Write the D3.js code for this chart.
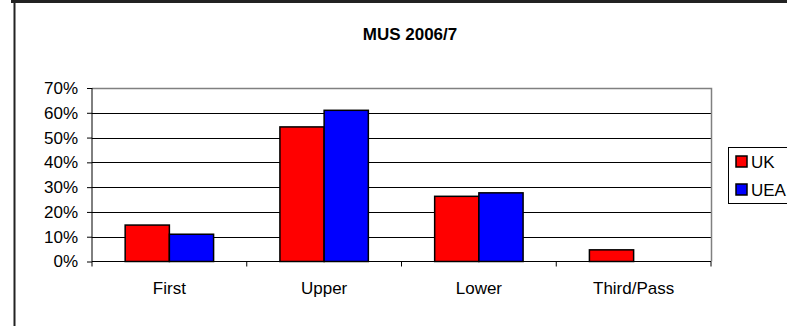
<!DOCTYPE html>
<html><head><meta charset="utf-8">
<script src="https://cdn.jsdelivr.net/npm/d3@7"></script>
<style>
html,body{margin:0;padding:0;background:#fff;overflow:hidden}
text{font-family:"Liberation Sans",Arial,sans-serif}
</style></head>
<body><svg id="c" width="787" height="326"></svg>
<script>
const title = "MUS 2006/7";
const categories = ["First","Upper","Lower","Third/Pass"];
const seriesNames = ["UK","UEA"];
const ukValues = [0.147, 0.543, 0.263, 0.047];
const ueaValues = [0.110, 0.610, 0.277, 0];
const seriesColors = ["#FF0000","#0000FF"];
const yTicks = [0,0.1,0.2,0.3,0.4,0.5,0.6,0.7];

const svg = d3.select("#c");
const W = 787, H = 326;
svg.append("rect").attr("width",W).attr("height",H).attr("fill","#fff");

// outer frame
svg.append("line").attr("x1",11).attr("x2",W).attr("y1",1.5).attr("y2",1.5).attr("stroke","#222").attr("stroke-width",3);
svg.append("line").attr("x1",14.5).attr("x2",14.5).attr("y1",0).attr("y2",H).attr("stroke","#222").attr("stroke-width",2);

const L = 92, R = 711, T = 88, B = 261.5;
const x = d3.scaleBand().domain(categories).range([L,R]).paddingInner(0).paddingOuter(0);
const y = d3.scaleLinear().domain([0,0.7]).range([B,T]);

// gridlines
svg.append("g").selectAll("line").data(yTicks.filter(d=>d>0 && d<0.7)).join("line")
  .attr("x1",L).attr("x2",R).attr("y1",d=>Math.round(y(d))+0.5).attr("y2",d=>Math.round(y(d))+0.5)
  .attr("stroke","#000").attr("stroke-width",1);
// plot border top/right (gray)
svg.append("path").attr("d",`M${L},${Math.round(T)+0.5}H${R+0.5}V${B}`).attr("fill","none").attr("stroke","#808080").attr("stroke-width",1.5);

// bars
const bw = x.bandwidth()/3.5;
const series = [ukValues, ueaValues];
series.forEach((vals,si)=>{
  svg.append("g").selectAll("rect").data(categories.map((c,i)=>({c,v:vals[i]}))).join("rect")
    .attr("x",d=>x(d.c)+x.bandwidth()/2 - bw + si*bw)
    .attr("y",d=>y(d.v))
    .attr("width",bw)
    .attr("height",d=>B-y(d.v))
    .attr("fill",seriesColors[si])
    .attr("stroke","#000").attr("stroke-width",1.5)
    .attr("display",d=>d.v>0?null:"none");
});

// y axis
const yAxis = d3.axisLeft(y).tickValues(yTicks).tickFormat(d3.format(".0%")).tickSize(5).tickPadding(9);
const gy = svg.append("g").attr("transform",`translate(${L},0)`).call(yAxis);
gy.select(".domain").attr("d",`M0,${T}V${B}`).attr("stroke","#000");
gy.selectAll("text").attr("font-size",17).attr("fill","#000").attr("font-family","Liberation Sans, Arial, sans-serif");

// x axis
const gx = svg.append("g").attr("transform",`translate(0,${B})`);
gx.append("line").attr("x1",L).attr("x2",R).attr("y1",0).attr("y2",0).attr("stroke","#000");
const bounds = categories.map(c=>x(c)).concat([R]);
gx.selectAll("line.tk").data(bounds).join("line").attr("class","tk")
  .attr("x1",d=>d).attr("x2",d=>d).attr("y1",0).attr("y2",5).attr("stroke","#000");
gx.selectAll("text").data(categories).join("text")
  .attr("x",d=>x(d)+x.bandwidth()/2).attr("y",32).attr("text-anchor","middle")
  .attr("font-size",17).attr("fill","#000").text(d=>d);

// title
svg.append("text").attr("x",410).attr("y",39.5).attr("text-anchor","middle")
  .attr("font-size",17).attr("font-weight","bold").attr("fill","#000").text(title);

// legend
const lg = svg.append("g");
lg.append("rect").attr("x",728.5).attr("y",147.5).attr("width",80).attr("height",56)
  .attr("fill","#fff").attr("stroke","#000").attr("stroke-width",1);
seriesNames.forEach((n,i)=>{
  const yy = 156 + i*28;
  lg.append("rect").attr("x",736).attr("y",yy).attr("width",11).attr("height",11)
    .attr("fill",seriesColors[i]).attr("stroke","#000").attr("stroke-width",1.5);
  lg.append("text").attr("x",751).attr("y",yy+11.5).attr("font-size",17).attr("fill","#000").text(n);
});
</script></body></html>
